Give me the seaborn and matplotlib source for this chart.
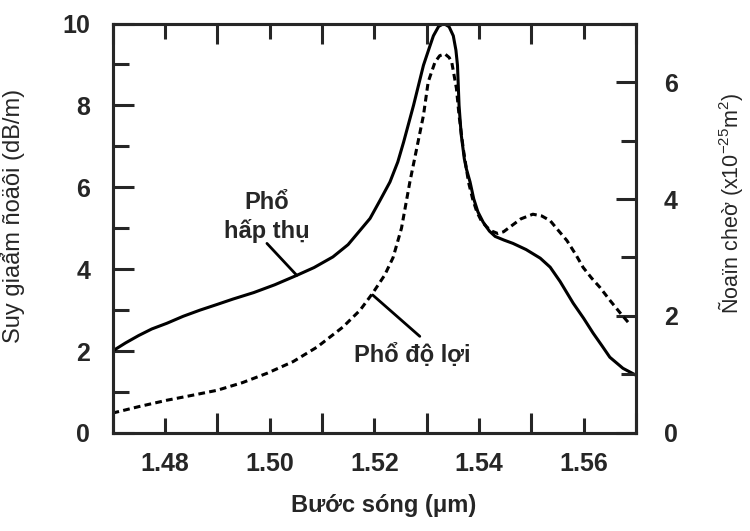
import matplotlib
matplotlib.use("Agg")
import matplotlib.pyplot as plt
import seaborn as sns
from matplotlib.ticker import MultipleLocator

# Absorption spectrum (left axis, dB/m)
abs_wl = [1.470, 1.4725, 1.475, 1.4775, 1.4804, 1.4835, 1.4867, 1.490, 1.493,
          1.497, 1.501, 1.5052, 1.5085, 1.5121, 1.515, 1.5173, 1.5192, 1.5211,
          1.523, 1.5245, 1.5256, 1.5275, 1.5294, 1.5305, 1.5313, 1.5323,
          1.5333, 1.5343, 1.5351, 1.5356, 1.5359, 1.5362, 1.5366, 1.5372,
          1.5376, 1.5383, 1.5390, 1.5398, 1.5408, 1.5420, 1.5431, 1.5448,
          1.5465, 1.549, 1.5517, 1.5536, 1.5555, 1.558, 1.560, 1.5618,
          1.5635, 1.565, 1.5675, 1.570]
abs_db = [2.00, 2.20, 2.38, 2.54, 2.68, 2.85, 3.00, 3.14, 3.27,
          3.43, 3.62, 3.85, 4.04, 4.30, 4.60, 4.95, 5.24, 5.68,
          6.13, 6.62, 7.10, 8.00, 8.98, 9.40, 9.70, 9.93,
          10.0, 9.92, 9.70, 9.35, 8.98, 8.00, 7.30, 6.70,
          6.45, 6.13, 5.72, 5.40, 5.15, 4.93, 4.80, 4.71,
          4.63, 4.48, 4.27, 4.05, 3.70, 3.17, 2.80, 2.44,
          2.13, 1.85, 1.58, 1.41]

# Gain spectrum (right axis, x10^-25 m^2)
gain_wl = [1.470, 1.475, 1.4804, 1.485, 1.490, 1.4948, 1.4995, 1.5045, 1.5091,
           1.514, 1.5173, 1.5197, 1.522, 1.5236, 1.5252, 1.5268, 1.5281,
           1.5294, 1.5303, 1.5316, 1.5325, 1.5335, 1.5343, 1.5348, 1.5357,
           1.5362, 1.5370, 1.5380, 1.5388, 1.5396, 1.5405, 1.5415, 1.5425,
           1.5436, 1.5447, 1.5459, 1.548, 1.5503, 1.552, 1.5536, 1.555,
           1.5568, 1.5585, 1.5599, 1.5615, 1.5631, 1.565, 1.567, 1.569]
gain_cs = [0.34, 0.45, 0.56, 0.64, 0.73, 0.86, 1.02, 1.22, 1.47,
           1.81, 2.10, 2.39, 2.70, 3.00, 3.50, 4.29, 4.86,
           5.43, 6.00, 6.34, 6.45, 6.48, 6.42, 6.34, 5.89,
           5.43, 4.86, 4.29, 4.00, 3.78, 3.62, 3.52, 3.45,
           3.41, 3.44, 3.52, 3.66, 3.74, 3.71, 3.63, 3.48,
           3.29, 3.05, 2.83, 2.65, 2.49, 2.27, 2.05, 1.84]

sns.set_style("ticks")
plt.rcParams['font.family'] = ['Liberation Sans', 'DejaVu Sans']
plt.rcParams['mathtext.default'] = 'regular'
plt.rcParams['axes.unicode_minus'] = False

fig = plt.figure(figsize=(7.5, 5.31), dpi=100)
ax = fig.add_axes([0.15, 0.1846, 0.698, 0.7711])
ax2 = ax.twinx()

sns.lineplot(x=abs_wl, y=abs_db, ax=ax, color='black', linewidth=2.2, estimator=None)
sns.lineplot(x=gain_wl, y=gain_cs, ax=ax2, color='black', linewidth=2.2, estimator=None)
ax.lines[0].set_solid_joinstyle('round')
ax2.lines[0].set_dashes([2.2, 1.4])

ax.set_xlim(1.47, 1.57)
ax.set_ylim(0, 10)
ax2.set_ylim(0, 7)

ax.xaxis.set_minor_locator(MultipleLocator(0.01))
ax.yaxis.set_major_locator(MultipleLocator(2))
ax.yaxis.set_minor_locator(MultipleLocator(1))
ax2.yaxis.set_major_locator(MultipleLocator(2))
ax2.yaxis.set_minor_locator(MultipleLocator(1))
ax.set_xticks([1.48, 1.50, 1.52, 1.54, 1.56])
ax.set_xticklabels(['1.48', '1.50', '1.52', '1.54', '1.56'])

for a in (ax, ax2):
    for s in a.spines.values():
        s.set_linewidth(2.2)
        s.set_visible(True)

ax.tick_params(axis='x', which='both', direction='in', top=True, bottom=True,
               width=2.2, pad=14, labelsize=18)
ax.tick_params(axis='x', which='major', length=10.8)
ax.tick_params(axis='x', which='minor', length=14.4)
ax.tick_params(axis='y', which='both', direction='in', left=True, right=False,
               width=2.2, pad=16, labelsize=18)
ax.tick_params(axis='y', which='major', length=15)
ax.tick_params(axis='y', which='minor', length=11.5)
ax2.tick_params(axis='y', which='both', direction='in', width=2.2, pad=20, labelsize=18)
ax2.tick_params(axis='y', which='major', length=14.4)
ax2.tick_params(axis='y', which='minor', length=10.8)
for lab in ax.get_xticklabels() + ax.get_yticklabels() + ax2.get_yticklabels():
    lab.set_fontweight('bold')

ax.set_xlabel('Bước sóng (μm)', fontsize=17, fontweight='bold')
ax.xaxis.set_label_coords(0.517, -0.15)
ax.set_ylabel('Suy giaẩm ñoäôi (dB/m)', fontsize=17)
ax.yaxis.set_label_coords(-0.167, 0.53)
ax2.set_ylabel('Ñoaïn cheờ (x10$^{-25}$m$^{2}$)', fontsize=15.5, rotation=90)
ax2.yaxis.set_label_coords(1.152, 0.56)

ax.text(1.4995, 5.27, 'Phổ\nhấp thụ', ha='center', va='center', fontsize=17,
        fontweight='bold', linespacing=1.25)
ax.annotate('', xy=(1.5052, 3.85), xytext=(1.4995, 4.63),
            arrowprops=dict(arrowstyle='-', color='black', lw=2.0, shrinkA=0, shrinkB=0))
ax.text(1.5272, 1.90, 'Phổ độ lợi', ha='center', va='center', fontsize=17,
        fontweight='bold')
ax.annotate('', xy=(1.5197, 3.37), xytext=(1.5287, 2.36),
            arrowprops=dict(arrowstyle='-', color='black', lw=2.0, shrinkA=0, shrinkB=0))

fig.savefig('out.png', dpi=100)
